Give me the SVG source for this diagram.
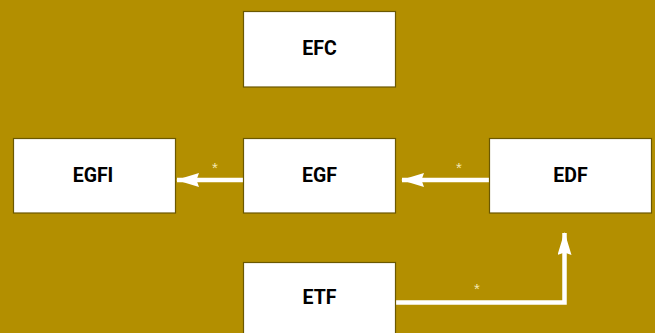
<svg xmlns="http://www.w3.org/2000/svg" width="655" height="333" viewBox="0 0 655 333">
<defs>
<style>
.box{fill:#ffffff;stroke:#6b5800;stroke-width:1.2}
.lbl{font-family:Roboto,"Liberation Sans",sans-serif;font-weight:bold;font-size:19.5px;fill:#000;text-anchor:middle}
.edge{fill:none;stroke:#ffffff;stroke-width:4.5}
.star{font-family:"Liberation Sans",sans-serif;font-size:15px;fill:#f3e7b0;text-anchor:middle}
</style>
<marker id="ah" viewBox="0 0 23 14" refX="22" refY="7" markerWidth="23" markerHeight="14" markerUnits="userSpaceOnUse" orient="auto">
<path d="M0,0 L23,7 L0,14 L2.5,7 Z" fill="#ffffff"/>
</marker>
</defs>
<rect width="655" height="333" fill="#b38f00"/>
<g id="connectors">
<line class="edge" x1="243.5" y1="180" x2="177" y2="180" marker-end="url(#ah)"/>
<text class="star" x="215" y="173">*</text>
<line class="edge" x1="489" y1="180" x2="402" y2="180" marker-end="url(#ah)"/>
<text class="star" x="459" y="173">*</text>
<polyline class="edge" points="395,302.5 564.5,302.5 564.5,233" marker-end="url(#ah)"/>
<text class="star" x="477" y="294">*</text>
</g>
<g id="EFC"><rect class="box" x="243.5" y="11.5" width="152" height="75.5"/><text class="lbl" x="319.5" y="54.5">EFC</text></g>
<g id="EGFI"><rect class="box" x="13.5" y="138.5" width="162" height="74.5"/><text class="lbl" x="93" y="182">EGFI</text></g>
<g id="EGF"><rect class="box" x="243.5" y="138.5" width="152" height="74.5"/><text class="lbl" x="319.5" y="182">EGF</text></g>
<g id="EDF"><rect class="box" x="489.5" y="138.5" width="162" height="74.5"/><text class="lbl" x="570.5" y="182">EDF</text></g>
<g id="ETF"><rect class="box" x="243.5" y="262.5" width="152" height="80"/><text class="lbl" x="319.5" y="304">ETF</text></g>
</svg>
